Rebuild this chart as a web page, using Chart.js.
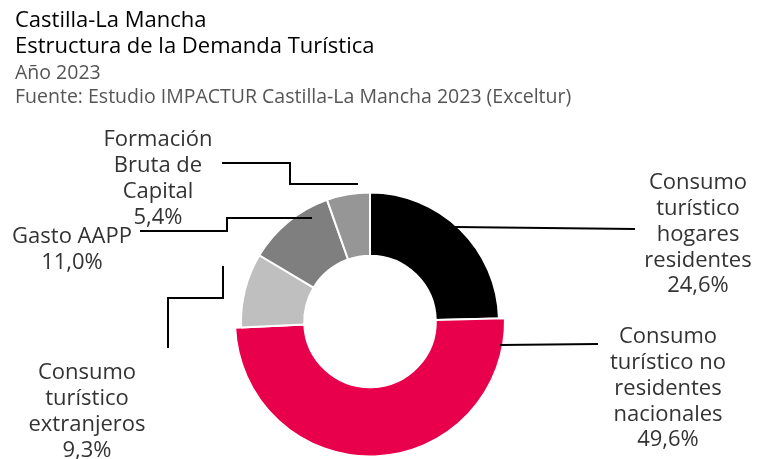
<!DOCTYPE html>
<html>
<head>
<meta charset="utf-8">
<script src="https://cdn.jsdelivr.net/npm/chart.js@4.4.0/dist/chart.umd.min.js"></script>
<style>
  html, body { margin: 0; padding: 0; background: #fff; }
  #wrap { width: 757px; height: 459px; position: relative; }
</style>
</head>
<body>
<div id="wrap"><canvas id="myChart"></canvas></div>
<script>
// data
var categories = [
  "Consumo turístico hogares residentes",
  "Consumo turístico no residentes nacionales",
  "Consumo turístico extranjeros",
  "Gasto AAPP",
  "Formación Bruta de Capital"
];
// wrapped label lines, as printed on the chart
var labelLines = [
  ["Consumo", "turístico", "hogares", "residentes"],
  ["Consumo", "turístico no", "residentes", "nacionales"],
  ["Consumo", "turístico", "extranjeros"],
  ["Gasto AAPP"],
  ["Formación", "Bruta de", "Capital"]
];
var shares = [24.6, 49.6, 9.3, 11.0, 5.4];
var sliceColors = ["#000000", "#e8004c", "#bfbfbf", "#7f7f7f", "#969696"];

var FONT = "'Open Sans', 'DejaVu Sans', sans-serif";
var BIG = 1;      // slice drawn with a larger radius
var BIG_EXTRA = 6;

// label placement, relative to the doughnut centre (cx, dy of first line)
var labelPos = [
  { x: 328, y: -138.5 },
  { x: 298, y: 15.5 },
  { x: -283, y: 51.5 },
  { x: -298, y: -84.5 },
  { x: -212, y: -181.5 }
];
var leaders = [
  [[85, -94.5], [265, -92.5]],
  [[130, 23.5], [228, 22.5]],
  [[-147, -55.5], [-147, -23.5], [-202, -23.5], [-202, 26.5]],
  [[-58, -103.5], [-143, -103.5], [-143, -90.5], [-230, -90.5]],
  [[-148, -158.5], [-80, -158.5], [-80, -137.5], [-12, -137.5]]
];

function pct(v) { return v.toFixed(1).replace(".", ",") + "%"; }

var bigSlice = {
  id: "bigSlice",
  afterDatasetsUpdate: function (chart) {
    var arc = chart.getDatasetMeta(0).data[BIG];
    if (arc) arc.outerRadius += BIG_EXTRA;
  }
};

var sliceLabels = {
  id: "sliceLabels",
  afterDraw: function (chart) {
    var ctx = chart.ctx;
    var arc0 = chart.getDatasetMeta(0).data[0];
    var cx = arc0.x, cy = arc0.y;
    ctx.save();
    ctx.strokeStyle = "#000";
    ctx.lineWidth = 2;
    leaders.forEach(function (pts) {
      ctx.beginPath();
      pts.forEach(function (p, i) {
        if (i === 0) ctx.moveTo(cx + p[0], cy + p[1]);
        else ctx.lineTo(cx + p[0], cy + p[1]);
      });
      ctx.stroke();
    });
    ctx.fillStyle = "#333";
    ctx.font = "22px " + FONT;
    ctx.textAlign = "center";
    ctx.textBaseline = "middle";
    var lh = 25.8;
    labelLines.forEach(function (lines, i) {
      var all = lines.concat([pct(shares[i])]);
      all.forEach(function (t, j) {
        ctx.fillText(t, cx + labelPos[i].x, cy + labelPos[i].y + j * lh);
      });
    });
    ctx.restore();
  }
};

var ctx = document.getElementById("myChart");
var myChart = new Chart(ctx, {
  type: "doughnut",
  data: {
    labels: categories,
    datasets: [
      {
        data: shares,
        backgroundColor: sliceColors,
        borderColor: "#ffffff",
        borderWidth: 2,
        hoverOffset: 0
      }
    ]
  },
  plugins: [bigSlice, sliceLabels],
  options: {
    responsive: true,
    maintainAspectRatio: false,
    animation: false,
    events: [],
    cutout: "51%",
    layout: { padding: { left: 15, right: 32, top: 0, bottom: 7.5 } },
    plugins: {
      legend: { display: false },
      tooltip: { enabled: false },
      title: {
        display: true,
        align: "start",
        text: ["Castilla-La Mancha", "Estructura de la Demanda Turística"],
        color: "#000",
        font: { family: FONT, size: 22, weight: "normal", lineHeight: 26 / 22 },
        padding: { top: 8, bottom: 0 }
      },
      subtitle: {
        display: true,
        align: "start",
        text: ["Año 2023", "Fuente: Estudio IMPACTUR Castilla-La Mancha 2023 (Exceltur)"],
        color: "#555",
        font: { family: FONT, size: 19.5, weight: "normal", lineHeight: 24 / 19.5 },
        padding: { top: 1, bottom: 82.5 }
      }
    }
  }
});
</script>
</body>
</html>
